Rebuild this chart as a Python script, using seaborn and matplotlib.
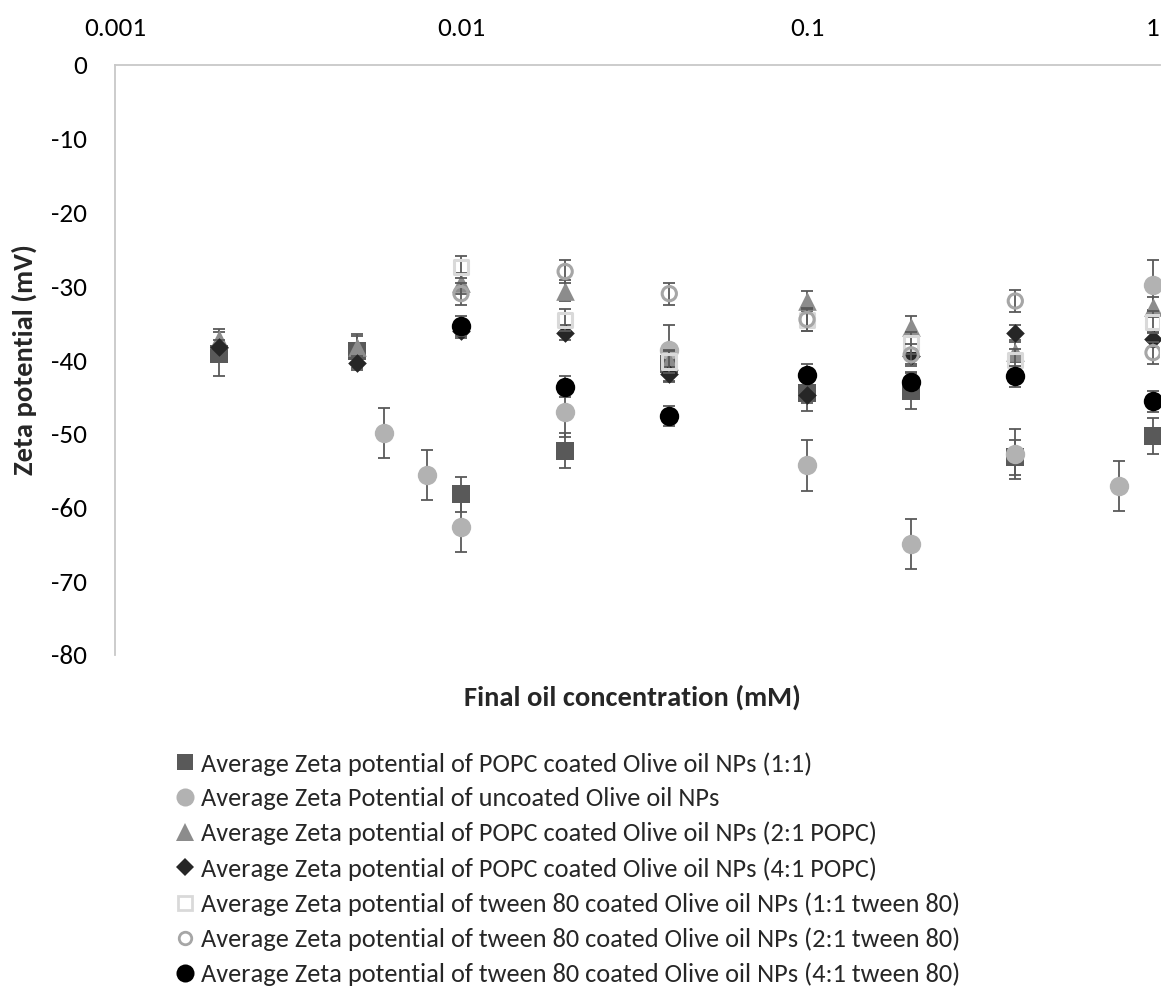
import numpy as np
import pandas as pd
import matplotlib
matplotlib.use("Agg")
import matplotlib.pyplot as plt
from matplotlib.lines import Line2D
import seaborn as sns

# ---- data: final oil concentration (mM) and zeta potential (mV) ----
conc_popc = [0.002, 0.005, 0.01, 0.02, 0.04, 0.1, 0.2, 0.4, 1]
conc_uncoated = [0.006, 0.008, 0.01, 0.02, 0.04, 0.1, 0.2, 0.4, 0.8, 1]
conc_tween = [0.01, 0.02, 0.04, 0.1, 0.2, 0.4, 1]

zeta_popc_11 = [-39.2, -38.8, -58.2, -52.3, -40.6, -44.5, -44.2, -53.2, -50.3]
err_popc_11 = [3.0, 2.3, 2.4, 2.4, 2.4, 2.4, 2.4, 2.4, 2.4]

zeta_uncoated = [-49.9, -55.6, -62.7, -47.0, -38.6, -54.3, -65.0, -52.8, -57.1, -29.8]
err_uncoated = [3.4, 3.4, 3.4, 3.4, 3.4, 3.4, 3.4, 3.4, 3.4, 3.4]

zeta_popc_21 = [-37.2, -38.2, -29.6, -30.6, -40.2, -32.0, -35.5, -38.9, -32.8]
err_popc_21 = [1.4, 1.4, 1.4, 1.4, 1.4, 1.4, 1.4, 1.4, 1.4]

zeta_popc_41 = [-38.3, -40.4, -36.0, -36.3, -41.9, -44.8, -39.5, -36.3, -37.2]
err_popc_41 = [1.0, 1.0, 1.0, 1.0, 1.0, 1.0, 1.0, 1.0, 1.0]

zeta_tween_11 = [-27.4, -34.6, -40.2, -34.6, -37.7, -40.0, -34.8]
err_tween_11 = [1.5, 1.5, 1.5, 1.5, 1.5, 1.5, 1.5]

zeta_tween_21 = [-31.0, -28.0, -31.0, -34.5, -39.3, -32.0, -39.0]
err_tween_21 = [1.5, 1.5, 1.5, 1.5, 1.5, 1.5, 1.5]

zeta_tween_41 = [-35.4, -43.6, -47.6, -42.0, -43.0, -42.2, -45.6]
err_tween_41 = [1.4, 1.4, 1.4, 1.4, 1.4, 1.4, 1.4]

labels = [
    "Average Zeta potential of POPC coated Olive oil NPs (1:1)",
    "Average Zeta Potential of uncoated Olive oil NPs",
    "Average Zeta potential of POPC coated Olive oil NPs (2:1 POPC)",
    "Average Zeta potential of POPC coated Olive oil NPs (4:1 POPC)",
    "Average Zeta potential of tween 80 coated Olive oil NPs (1:1 tween 80)",
    "Average Zeta potential of tween 80 coated Olive oil NPs (2:1 tween 80)",
    "Average Zeta potential of tween 80 coated Olive oil NPs (4:1 tween 80)",
]

x_ticks = [0.001, 0.01, 0.1, 1]
x_tick_labels = ["0.001", "0.01", "0.1", "1"]
y_ticks = [0, -10, -20, -30, -40, -50, -60, -70, -80]

# ---- styling of each series ----
series = [
    dict(x=conc_popc, y=zeta_popc_11, e=err_popc_11, marker="s", s=170,
         face="#595959", edge="#595959", lw=0, lsize=12),
    dict(x=conc_uncoated, y=zeta_uncoated, e=err_uncoated, marker="o", s=195,
         face="#b2b2b2", edge="#b2b2b2", lw=0, lsize=13),
    dict(x=conc_popc, y=zeta_popc_21, e=err_popc_21, marker="^", s=180,
         face="#8c8c8c", edge="#8c8c8c", lw=0, lsize=13),
    dict(x=conc_popc, y=zeta_popc_41, e=err_popc_41, marker="D", s=90,
         face="#262626", edge="#262626", lw=0, lsize=9),
    dict(x=conc_tween, y=zeta_tween_11, e=err_tween_11, marker="s", s=105,
         face="none", edge="#d9d9d9", lw=2.2, lsize=10),
    dict(x=conc_tween, y=zeta_tween_21, e=err_tween_21, marker="o", s=105,
         face="none", edge="#a6a6a6", lw=2.2, lsize=9),
    dict(x=conc_tween, y=zeta_tween_41, e=err_tween_41, marker="o", s=195,
         face="#000000", edge="#000000", lw=0, lsize=13),
]

sns.set_theme(style="white")
plt.rcParams["font.family"] = ["Carlito", "Lato", "DejaVu Sans"]

W, H = 1163, 992
fig = plt.figure(figsize=(W / 100, H / 100), dpi=100)
ax_left, ax_right, ax_top, ax_bottom = 115, 1160, 65, 655
ax = fig.add_axes([ax_left / W, 1 - ax_bottom / H,
                   (ax_right - ax_left) / W, (ax_bottom - ax_top) / H])

for i, sr in enumerate(series):
    df = pd.DataFrame({"conc": sr["x"], "zeta": sr["y"]})
    ax.errorbar(df["conc"], df["zeta"], yerr=sr["e"], fmt="none",
                ecolor="#595959", elinewidth=1.3, capsize=4.3, capthick=1.3,
                zorder=2 + 2 * i)
    sns.scatterplot(data=df, x="conc", y="zeta", ax=ax, marker=sr["marker"],
                    s=sr["s"], facecolor=sr["face"], edgecolor=sr["edge"],
                    linewidth=sr["lw"], zorder=3 + 2 * i, legend=False)

ax.set_xscale("log")
decade_px = 346.0
ax.set_xlim(1e-3, 10 ** ((ax_right - ax_left) / decade_px - 3))
ax.set_ylim(-80, 0)
ax.set_xticks(x_ticks)
ax.set_xticklabels(x_tick_labels)
ax.xaxis.set_minor_locator(matplotlib.ticker.NullLocator())
ax.set_yticks(y_ticks)
ax.set_yticklabels([str(v) for v in y_ticks])
ax.xaxis.tick_top()
ax.tick_params(axis="both", length=0, labelsize=19.5, colors="#000000")
ax.tick_params(axis="x", pad=18)
ax.tick_params(axis="y", pad=20)

for side in ["right", "bottom"]:
    ax.spines[side].set_visible(False)
for side in ["left", "top"]:
    ax.spines[side].set_color("#c8c8c8")
    ax.spines[side].set_linewidth(1.3)

ax.set_xlabel("Final oil concentration (mM)", fontsize=20.5, fontweight="bold")
ax.xaxis.set_label_position("bottom")
ax.xaxis.set_label_coords(0.495, -(697 - ax_bottom) / (ax_bottom - ax_top))
ax.xaxis.label.set_verticalalignment("center")

ax.set_ylabel("Zeta potential (mV)", fontsize=20.5, fontweight="bold")
ax.yaxis.set_label_coords(-(ax_left - 24) / (ax_right - ax_left), 0.5)
ax.yaxis.label.set_verticalalignment("center")

handles = []
for sr in series:
    if sr["face"] == "none":
        h = Line2D([], [], linestyle="none", marker=sr["marker"],
                   markersize=sr["lsize"], markerfacecolor="none",
                   markeredgecolor=sr["edge"], markeredgewidth=2.0)
    else:
        h = Line2D([], [], linestyle="none", marker=sr["marker"],
                   markersize=sr["lsize"], markerfacecolor=sr["face"],
                   markeredgecolor=sr["edge"], markeredgewidth=0)
    handles.append(h)

fig.legend(handles, labels, loc="upper left",
           bbox_to_anchor=(172 / W, 1 - 752 / H), frameon=False,
           fontsize=19, handlelength=1.0, handletextpad=0.1,
           labelspacing=0.44, borderpad=0, borderaxespad=0)

fig.savefig("out.png", dpi=100)
